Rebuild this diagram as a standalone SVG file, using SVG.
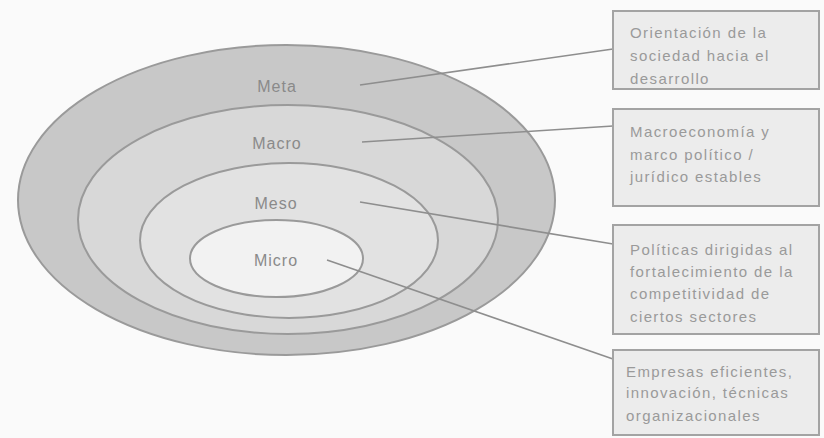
<svg xmlns="http://www.w3.org/2000/svg" width="824" height="438" viewBox="0 0 824 438">
<style>
.ring{stroke:#9a9a9a;stroke-width:2}
.lbl{font-family:"Liberation Sans",Arial,sans-serif;font-size:16px;fill:#8a8a8a;text-anchor:middle;letter-spacing:1px}
.box{fill:#ececec;stroke:#a3a3a3;stroke-width:2}
.bt{font-family:"Liberation Sans",Arial,sans-serif;font-size:15px;fill:#9a9a9a;letter-spacing:1.4px}
.con{stroke:#8e8e8e;stroke-width:1.6;fill:none}
</style>
<rect width="824" height="438" fill="#fafafa"/>
<g id="meta">
<ellipse class="ring" cx="286.5" cy="200" rx="268.5" ry="155" fill="#c8c8c8"/>
<text class="lbl" x="277" y="92">Meta</text>
</g>
<g id="macro">
<ellipse class="ring" cx="288" cy="219.5" rx="210" ry="114.5" fill="#d8d8d8"/>
<text class="lbl" x="277" y="149">Macro</text>
</g>
<g id="meso">
<ellipse class="ring" cx="289" cy="240.5" rx="149" ry="77.5" fill="#e2e2e2"/>
<text class="lbl" x="276" y="209">Meso</text>
</g>
<g id="micro">
<ellipse class="ring" cx="276.5" cy="258.5" rx="86.5" ry="38.5" fill="#f2f2f2"/>
<text class="lbl" x="276" y="266">Micro</text>
</g>
<g id="connectors">
<line class="con" x1="360" y1="85" x2="613" y2="49"/>
<line class="con" x1="362" y1="142" x2="613" y2="126"/>
<line class="con" x1="360" y1="202" x2="613" y2="244"/>
<line class="con" x1="327" y1="260" x2="613" y2="359"/>
</g>
<g id="box-meta">
<rect class="box" x="613" y="11" width="206" height="78"/>
<text class="bt" x="630" y="38">Orientación de la</text>
<text class="bt" x="630" y="61">sociedad hacia el</text>
<text class="bt" x="630" y="84">desarrollo</text>
</g>
<g id="box-macro">
<rect class="box" x="613" y="109" width="206" height="97"/>
<text class="bt" x="630" y="137">Macroeconomía y</text>
<text class="bt" x="630" y="160">marco político /</text>
<text class="bt" x="630" y="182">jurídico estables</text>
</g>
<g id="box-meso">
<rect class="box" x="613" y="225" width="206" height="109"/>
<text class="bt" x="630" y="255">Políticas dirigidas al</text>
<text class="bt" x="630" y="277">fortalecimiento de la</text>
<text class="bt" x="630" y="299">competitividad de</text>
<text class="bt" x="630" y="322">ciertos sectores</text>
</g>
<g id="box-micro">
<rect class="box" x="613" y="350" width="206" height="85"/>
<text class="bt" x="626" y="377">Empresas eficientes,</text>
<text class="bt" x="626" y="398">innovación, técnicas</text>
<text class="bt" x="626" y="421">organizacionales</text>
</g>
</svg>
